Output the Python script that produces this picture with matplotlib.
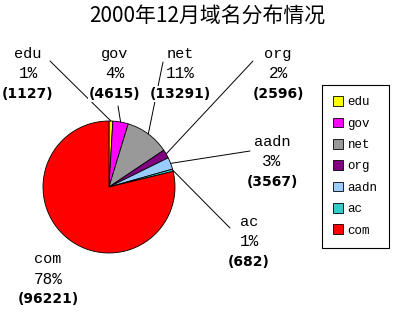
import numpy as np
import matplotlib
matplotlib.use("Agg")
import matplotlib.pyplot as plt

# data
names = ["edu", "gov", "net", "org", "aadn", "ac", "com"]
counts = [1127, 4615, 13291, 2596, 3567, 682, 96221]
pct_labels = ["1%", "4%", "11%", "2%", "3%", "1%", "78%"]
colors = ["#ffff00", "#ff00ff", "#999999", "#800080", "#99ccff", "#33cccc", "#ff0000"]
title = "2000年12月域名分布情况"

W, H = 400, 312

def px(x, y):
    # pixel (from top-left) -> figure fraction
    return x / W, 1 - y / H

# label block centres and leader line ends (pixels)
label_pos = {"edu": (28, 74), "gov": (115, 74), "net": (180, 74), "org": (278, 74),
             "aadn": (272, 162), "ac": (249, 242), "com": (48, 279)}
line_end = {"edu": (50, 61), "gov": (118, 106), "net": (163, 62), "org": (253, 61),
            "aadn": (250, 151), "ac": (230, 228)}

fig = plt.figure(figsize=(W / 100, H / 100), dpi=100)
fig.patch.set_facecolor("white")

cx, cy, r = 109, 187, 66
ax = fig.add_axes([(cx - r) / W, 1 - (cy + r) / H, 2 * r / W, 2 * r / H])
wedges, _ = ax.pie(counts, colors=colors, startangle=90, counterclock=False,
                   wedgeprops=dict(edgecolor="black", linewidth=0.6))
ax.set_xlim(-1, 1)
ax.set_ylim(-1, 1)
ax.set_aspect("auto")
ax.axis("off")

fig.text(*px(207, 17), title, ha="center", va="center", fontsize=15,
         family=["Noto Sans CJK SC", "DejaVu Sans"])

for w, name, c, p in zip(wedges, names, counts, pct_labels):
    x, y = label_pos[name]
    box = dict(facecolor="white", edgecolor="none", pad=0.5)
    fig.text(*px(x, y - 20), name, ha="center", va="center", fontsize=11,
             family="Liberation Mono", bbox=box)
    fig.text(*px(x, y), p, ha="center", va="center", fontsize=11.5,
             family="Liberation Mono", bbox=box)
    fig.text(*px(x, y + 20), "(%d)" % c, ha="center", va="center", fontsize=10,
             family="DejaVu Sans", fontweight="bold", bbox=box)
    if name in line_end:
        a = np.deg2rad((w.theta1 + w.theta2) / 2)
        ax.annotate("", xy=(np.cos(a), np.sin(a)), xycoords="data",
                    xytext=px(*line_end[name]), textcoords="figure fraction",
                    arrowprops=dict(arrowstyle="-", lw=0.7, color="black",
                                    shrinkA=0, shrinkB=0),
                    annotation_clip=False)

leg = fig.legend(wedges, names, loc="upper left", bbox_to_anchor=px(322, 85),
                 frameon=True, fancybox=False, edgecolor="black", framealpha=1,
                 prop=dict(family="Liberation Mono", size=9),
                 handlelength=0.8, handleheight=0.8, handletextpad=0.35,
                 labelspacing=0.74, borderpad=0.9, borderaxespad=0)
leg.get_frame().set_linewidth(0.8)

fig.savefig("out.png", dpi=100)
